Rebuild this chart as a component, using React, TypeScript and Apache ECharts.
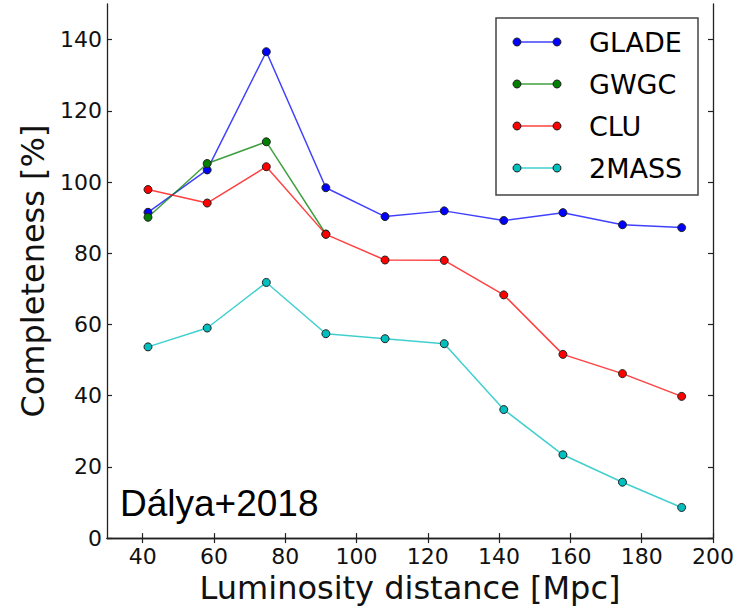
import React, { useEffect, useRef } from "react";
import * as echarts from "echarts";

const distances = [41.5, 58.1, 74.7, 91.4, 108.0, 124.6, 141.3, 157.9, 174.6, 191.2];
const gladeValues = [91.5, 103.4, 136.6, 98.4, 90.3, 91.9, 89.2, 91.4, 88.0, 87.2];
const gwgcValues = [90.1, 105.2, 111.3, 85.4];
const cluValues = [97.9, 94.1, 104.3, 85.3, 78.1, 78.0, 68.3, 51.6, 46.2, 39.8];
const twoMassValues = [53.7, 59.0, 71.8, 57.4, 56.0, 54.6, 36.1, 23.4, 15.7, 8.6];
const xTicks = [40, 60, 80, 100, 120, 140, 160, 180, 200];
const yTicks = [0, 20, 40, 60, 80, 100, 120, 140];

const seriesNames = ["GLADE", "GWGC", "CLU", "2MASS"];
const seriesColors = ["#0000ff", "#008000", "#ff0000", "#00bfbf"];
const seriesValues = [gladeValues, gwgcValues, cluValues, twoMassValues];

const FONT = "'DejaVu Sans', sans-serif";

export default function App() {
  const ref = useRef<HTMLDivElement>(null);
  useEffect(() => {
    if (!ref.current) return;
    const chart = echarts.init(ref.current, null, { renderer: "svg" });
    const axisLine = { show: true, lineStyle: { color: "#222", width: 1.3 } };
    const tickStyle = { show: true, inside: true, length: 5, lineStyle: { color: "#222", width: 1.2 } };
    const series = seriesNames.map((name, i) => ({
      name,
      type: "line",
      data: seriesValues[i].map((v, j) => [distances[j], v]),
      symbol: "circle",
      symbolSize: 8,
      lineStyle: { color: seriesColors[i], width: 1.5, opacity: 0.75 },
      itemStyle: { color: seriesColors[i], borderColor: "#222", borderWidth: 1 },
    }));

    const legendX = 496, legendY = 18, rowGap = 42;
    const legendChildren: any[] = [
      {
        type: "rect",
        shape: { x: legendX, y: legendY, width: 202, height: 177 },
        style: { fill: "#fff", stroke: "#444", lineWidth: 1.5 },
      },
    ];
    seriesNames.forEach((name, i) => {
      const y = 42 + i * rowGap;
      legendChildren.push({
        type: "line",
        shape: { x1: 517, y1: y, x2: 557, y2: y },
        style: { stroke: seriesColors[i], lineWidth: 1.5, opacity: 0.75 },
      });
      [517, 557].forEach((cx) =>
        legendChildren.push({
          type: "circle",
          shape: { cx, cy: y, r: 4 },
          style: { fill: seriesColors[i], stroke: "#222", lineWidth: 1 },
        })
      );
      legendChildren.push({
        type: "text",
        x: 589,
        y,
        style: {
          text: name,
          font: `27px ${FONT}`,
          fill: "#000",
          verticalAlign: "middle",
          align: "left",
        },
      });
    });

    chart.setOption({
      animation: false,
      grid: { left: 107, right: 32, top: 4, bottom: 67, containLabel: false },
      xAxis: [
        {
          type: "value",
          min: 30,
          max: 200,
          position: "bottom",
          axisLine,
          axisTick: { ...tickStyle, customValues: xTicks },
          axisLabel: {
            customValues: xTicks,
            margin: 7,
            fontSize: 22,
            fontFamily: FONT,
            color: "#111",
          },
          splitLine: { show: false },
          name: "Luminosity distance [Mpc]",
          nameLocation: "middle",
          nameGap: 31,
          nameTextStyle: { fontSize: 32, fontFamily: FONT, color: "#111" },
        },
        {
          type: "value",
          min: 30,
          max: 200,
          position: "top",
          axisLine,
          axisTick: { ...tickStyle, customValues: xTicks },
          axisLabel: { show: false },
          splitLine: { show: false },
        },
      ],
      yAxis: [
        {
          type: "value",
          min: 0,
          max: 150,
          position: "left",
          axisLine,
          axisTick: { ...tickStyle, customValues: yTicks },
          axisLabel: {
            customValues: yTicks,
            margin: 5,
            fontSize: 22,
            fontFamily: FONT,
            color: "#111",
          },
          splitLine: { show: false },
          name: "Completeness [%]",
          nameLocation: "middle",
          nameGap: 55,
          nameTextStyle: { fontSize: 32, fontFamily: FONT, color: "#111" },
        },
        {
          type: "value",
          min: 0,
          max: 150,
          position: "right",
          axisLine,
          axisTick: { ...tickStyle, customValues: yTicks },
          axisLabel: { show: false },
          splitLine: { show: false },
        },
      ],
      series,
      graphic: [
        ...legendChildren,
        {
          type: "text",
          x: 120,
          y: 503,
          style: {
            text: "Dálya+2018",
            font: "37px 'Liberation Sans', Arial, sans-serif",
            fill: "#000",
            verticalAlign: "middle",
            align: "left",
          },
        },
      ],
    });
    return () => chart.dispose();
  }, []);
  return (
    <div
      ref={ref}
      style={{ position: "fixed", left: 0, top: 0, width: 745, height: 609, background: "#fff" }}
    />
  );
}
